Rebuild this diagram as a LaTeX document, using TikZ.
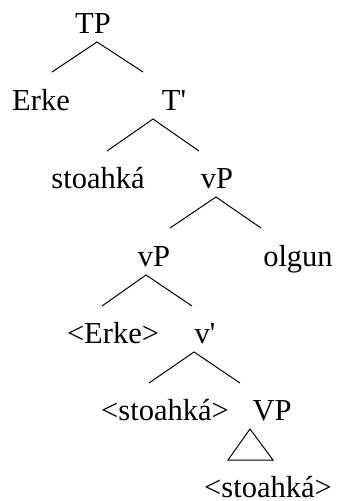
\documentclass[tikz,border=0pt]{standalone}
\usepackage{fontspec}
\setmainfont{Liberation Serif}[Ligatures=TeXOff]
\newcommand{\wordsize}{30.5}

\begin{document}
\begin{tikzpicture}[x=1pt,y=-1pt]
            \tikzset{word/.style = {anchor=base, inner sep=0pt, font=\fontsize{\wordsize}{36}\selectfont}}
            \tikzset{branch/.style = {line width=1pt, line join=miter}}
            \useasboundingbox (0,0) rectangle (337,501);
            \node[word] (TP) at (93,33) {TP};
            \node[word] (Erke) at (41,110) {Erke};
            \node[word] (Tbar) at (174,110) {T'};
            \node[word] (stoahka) at (98,188) {stoahká};
            \node[word] (vP) at (217,188) {vP};
            \node[word] (vPlow) at (154,266) {vP};
            \node[word] (olgun) at (298,266) {olgun};
            \node[word] (Erketr) at (113,343) {<Erke>};
            \node[word] (vbar) at (205,343) {v'};
            \node[word] (stoahkatr) at (165,420) {<stoahká>};
            \node[word] (VP) at (272,420) {VP};
            \node[word] (stoahkaVP) at (268,497) {<stoahká>};
            
            \coordinate (TP-c) at (97,42);
            \coordinate (TP-l) at (52,72);
            \coordinate (TP-r) at (143,72);
            \coordinate (Tbar-c) at (153,119);
            \coordinate (Tbar-l) at (107,151);
            \coordinate (Tbar-r) at (199,151);
            \coordinate (vP-c) at (216,197);
            \coordinate (vP-l) at (170,228);
            \coordinate (vP-r) at (261,228);
            \coordinate (vPlow-c) at (146,275);
            \coordinate (vPlow-l) at (102,306);
            \coordinate (vPlow-r) at (192,306);
            \coordinate (vbar-c) at (194,352);
            \coordinate (vbar-l) at (149,383);
            \coordinate (vbar-r) at (240,383);
            \coordinate (VP-c) at (250,429);
            \coordinate (VP-l) at (228,460);
            \coordinate (VP-r) at (273,460);
            
            \draw[branch] (TP-l) -- (TP-c) -- (TP-r);
            \draw[branch] (Tbar-l) -- (Tbar-c) -- (Tbar-r);
            \draw[branch] (vP-l) -- (vP-c) -- (vP-r);
            \draw[branch] (vPlow-l) -- (vPlow-c) -- (vPlow-r);
            \draw[branch] (vbar-l) -- (vbar-c) -- (vbar-r);
            \draw[branch] (VP-l) -- (VP-c) -- (VP-r) -- cycle;
        \end{tikzpicture}
\end{document}
